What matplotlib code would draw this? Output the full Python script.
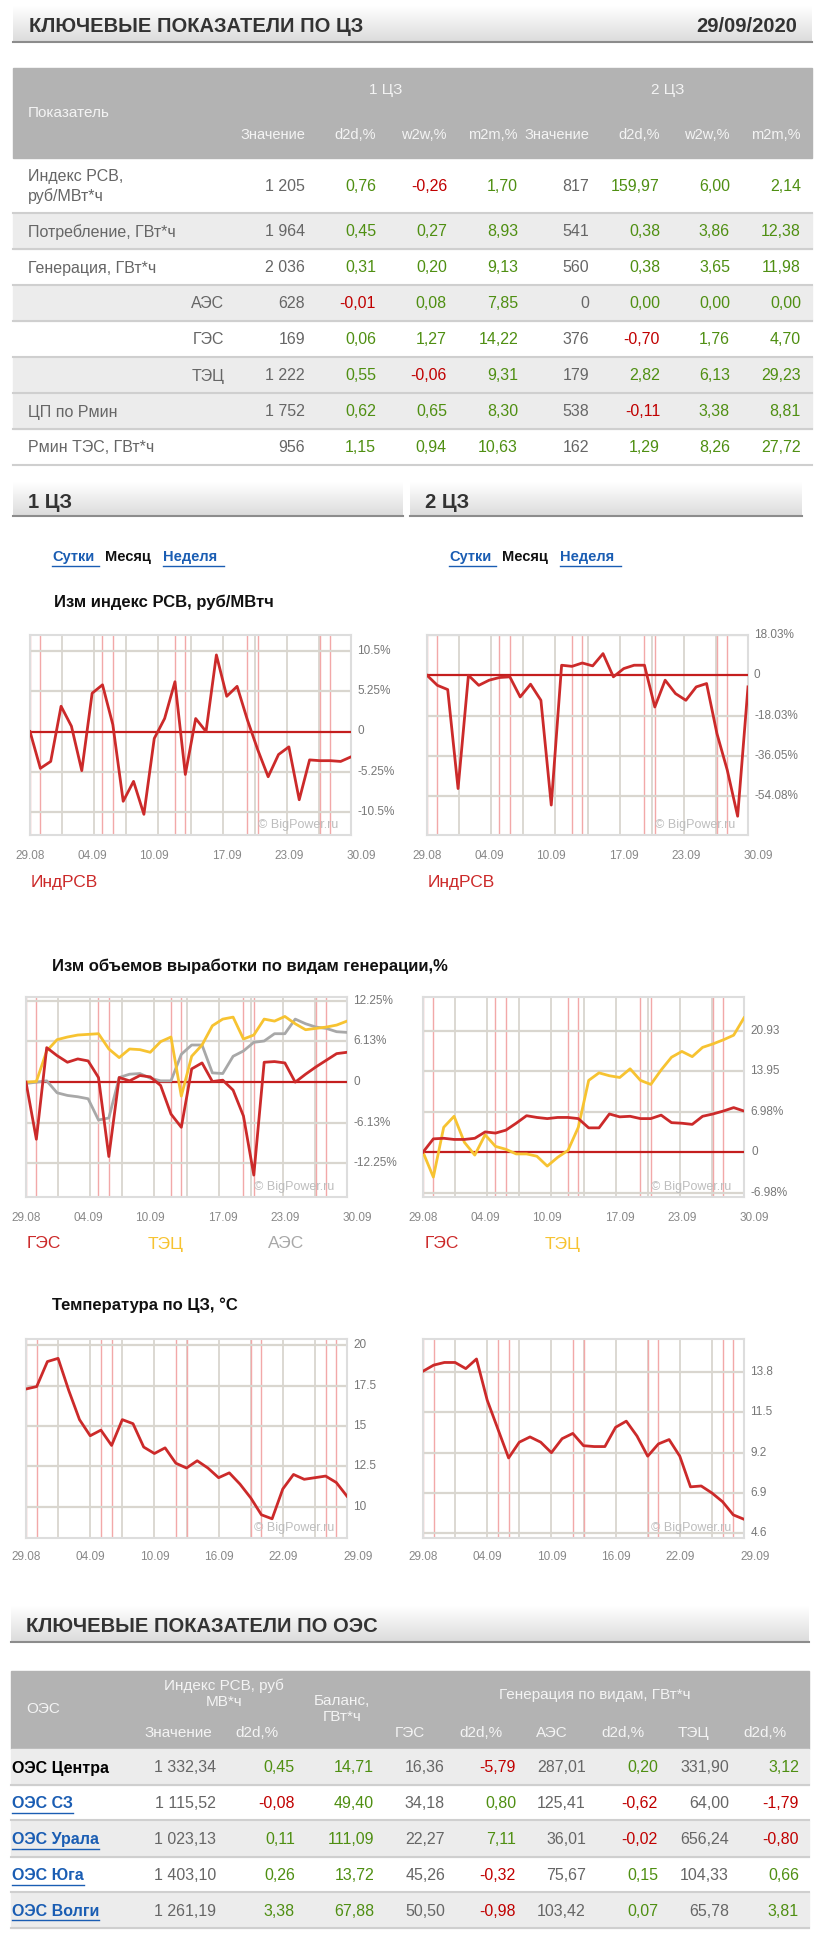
import numpy as np
import matplotlib
matplotlib.use("Agg")
import matplotlib.pyplot as plt
from matplotlib.patches import Rectangle

plt.rcParams['font.family'] = ['Liberation Sans', 'DejaVu Sans']

W, H = 816, 1941
GREEN = '#4f8f12'
RED_T = '#c00000'
GRAYT = '#666666'
LRED = '#cc2a2a'
YEL = '#f7c331'
AESG = '#a8a8a8'

# ---------------- data ----------------
date_str = "29/09/2020"
t1_rows = ["Индекс РСВ,\nруб/МВт*ч", "Потребление, ГВт*ч", "Генерация, ГВт*ч", "АЭС", "ГЭС", "ТЭЦ",
           "ЦП по Рмин", "Рмин ТЭС, ГВт*ч"]
t1_vals = [
    ["1 205", "0,76", "-0,26", "1,70", "817", "159,97", "6,00", "2,14"],
    ["1 964", "0,45", "0,27", "8,93", "541", "0,38", "3,86", "12,38"],
    ["2 036", "0,31", "0,20", "9,13", "560", "0,38", "3,65", "11,98"],
    ["628", "-0,01", "0,08", "7,85", "0", "0,00", "0,00", "0,00"],
    ["169", "0,06", "1,27", "14,22", "376", "-0,70", "1,76", "4,70"],
    ["1 222", "0,55", "-0,06", "9,31", "179", "2,82", "6,13", "29,23"],
    ["1 752", "0,62", "0,65", "8,30", "538", "-0,11", "3,38", "8,81"],
    ["956", "1,15", "0,94", "10,63", "162", "1,29", "8,26", "27,72"],
]
t1_sub = ["Значение", "d2d,%", "w2w,%", "m2m,%", "Значение", "d2d,%", "w2w,%", "m2m,%"]

rsv1 = [0, -4.8, -3.9, 3.3, 0.7, -5.1, 5.0, 6.1, 0.9, -9.1, -6.5, -10.8, -0.9, 1.7, 6.5, -5.6,
        1.7, 0, 10.0, 4.6, 5.9, 1.5, -2.4, -5.9, -3.0, -2.0, -8.9, -3.7, -3.8, -3.8, -3.9, -3.3]
rsv2 = [0, -4.5, -6.4, -50.7, 0, -4.5, -2.2, -1.0, -0.7, -9.7, -4.0, -11.2, -58.1, 4.5, 4.0, 5.5,
        4.2, 9.7, -0.7, 3.0, 4.5, 4.5, -14.2, -2.2, -8.2, -11.2, -5.2, -3.7, -26.1, -42.5, -63.1, -5.2]
ges1 = [0, -8.6, 5.2, 4.0, 3.0, 3.5, 3.2, 0.7, -11.2, 0.7, 0.2, 1.0, 0.8, -0.5, -4.8, -6.8,
        2.0, 2.9, 0.1, 0.3, -1.2, -5.1, -14.0, 3.0, 3.1, 2.9, 0, 1.2, 2.3, 3.3, 4.3, 4.5]
tec1 = [0, 0.1, 4.7, 6.4, 6.8, 7.1, 7.2, 7.3, 5.0, 3.7, 5.0, 4.9, 4.5, 6.1, 6.8, -2.1,
        3.9, 5.6, 8.5, 9.5, 9.8, 6.5, 7.1, 9.5, 9.2, 9.9, 8.8, 7.9, 8.1, 8.3, 8.6, 9.2]
aes1 = [-0.2, 0, 0.2, -1.6, -2.0, -2.2, -2.5, -5.7, -5.4, 0.7, 1.2, 1.3, 0.6, 0.2, 0.2, 4.2,
        5.6, 5.6, 1.4, 1.3, 3.9, 4.7, 6.0, 6.2, 7.3, 7.3, 9.5, 8.8, 8.3, 8.1, 7.6, 7.5]
ges2 = [0, 2.3, 2.4, 2.2, 2.2, 2.4, 3.5, 3.3, 3.8, 5.0, 6.3, 6.0, 5.8, 6.0, 6.0, 5.8,
        4.2, 4.2, 6.6, 6.1, 6.2, 5.8, 5.8, 6.4, 5.1, 5.0, 4.8, 6.2, 6.6, 7.1, 7.7, 7.1]
tec2 = [0, -4.3, 4.3, 6.2, 1.7, -0.5, 3.0, 1.0, 0.5, -0.3, -0.3, -0.7, -2.4, -0.9, 0.3, 4.3,
        12.4, 13.7, 13.2, 12.9, 14.4, 12.4, 11.7, 14.2, 16.4, 17.4, 16.5, 18.1, 18.7, 19.4, 20.2, 23.2]
temp1 = [17.3, 17.45, 19.0, 19.2, 17.2, 15.4, 14.4, 14.75, 13.8, 15.4, 15.15, 13.7, 13.3, 13.65,
         12.7, 12.4, 12.85, 12.4, 11.8, 12.1, 11.4, 10.55, 9.5, 9.25, 11.1, 12.0, 11.7, 11.8, 11.9, 11.5, 10.65]
temp2 = [13.85, 14.2, 14.35, 14.35, 14.0, 14.55, 12.2, 10.55, 8.9, 9.8, 10.1, 9.8, 9.2, 10.0,
         10.3, 9.6, 9.55, 9.55, 10.65, 11.0, 10.15, 9.0, 9.7, 9.95, 9.0, 7.25, 7.3, 6.9, 6.4, 5.65, 5.4]

xt_labels_a = ["29.08", "04.09", "10.09", "17.09", "23.09", "30.09"]
xt_labels_b = ["29.08", "04.09", "10.09", "16.09", "22.09", "29.09"]

t2_rows = ["ОЭС Центра", "ОЭС СЗ", "ОЭС Урала", "ОЭС Юга", "ОЭС Волги"]
t2_vals = [
    ["1 332,34", "0,45", "14,71", "16,36", "-5,79", "287,01", "0,20", "331,90", "3,12"],
    ["1 115,52", "-0,08", "49,40", "34,18", "0,80", "125,41", "-0,62", "64,00", "-1,79"],
    ["1 023,13", "0,11", "111,09", "22,27", "7,11", "36,01", "-0,02", "656,24", "-0,80"],
    ["1 403,10", "0,26", "13,72", "45,26", "-0,32", "75,67", "0,15", "104,33", "0,66"],
    ["1 261,19", "3,38", "67,88", "50,50", "-0,98", "103,42", "0,07", "65,78", "3,81"],
]

# ---------------- figure ----------------
fig = plt.figure(figsize=(W / 100, H / 100), dpi=100)
bg = fig.add_axes([0, 0, 1, 1])
bg.set_xlim(0, W)
bg.set_ylim(H, 0)
bg.axis('off')


def txt(x, y, s, size=11, color=GRAYT, ha='left', va='center', **kw):
    return bg.text(x, y, s, fontsize=size, color=color, ha=ha, va=va, **kw)


def gbar(x0, x1, y0, y1):
    grad = np.linspace(1.0, 0.86, 64).reshape(-1, 1)
    bg.imshow(np.dstack([grad, grad, grad]), extent=[x0, x1, y1, y0], aspect='auto', zorder=0)
    bg.plot([x0, x1], [y1, y1], color='#8c8c8c', lw=1.5, zorder=1)


def vcolor(s):
    return RED_T if s.startswith('-') else GREEN


# title bar 1
gbar(13, 812, 6, 42)
txt(29, 27, "КЛЮЧЕВЫЕ ПОКАЗАТЕЛИ ПО ЦЗ", 14.5, '#333333', weight='bold')
txt(797, 27, date_str, 14.5, '#333333', ha='right', weight='bold')

# table 1
bg.add_patch(Rectangle((13, 68), 799, 90, color='#b3b3b3', zorder=0))
hw = '#f4f4f4'
txt(28, 113, "Показатель", 11, hw)
txt(386, 90, "1 ЦЗ", 11, hw, ha='center')
txt(668, 90, "2 ЦЗ", 11, hw, ha='center')
col_r = [305, 376, 447, 518, 589, 660, 730, 801]
for cx, s in zip(col_r, t1_sub):
    txt(cx, 135, s, 10.5, hw, ha='right')
bounds = [158, 213, 249, 285, 321, 357, 393, 429, 465]
gray_rows = [1, 3, 5, 6]
for i, (name, vals) in enumerate(zip(t1_rows, t1_vals)):
    y0, y1 = bounds[i], bounds[i + 1]
    if i in gray_rows:
        bg.add_patch(Rectangle((13, y0), 799, y1 - y0, color='#ececec', zorder=0))
    bg.plot([13, 812], [y1, y1], color='#cfcfcf', lw=1.5, zorder=1)
    yc = (y0 + y1) / 2 + 1
    if name in ("АЭС", "ГЭС", "ТЭЦ"):
        txt(224, yc, name, 11.5, GRAYT, ha='right')
    else:
        txt(28, yc, name, 11.5, GRAYT, linespacing=1.3)
    for j, (cx, v) in enumerate(zip(col_r, vals)):
        c = GRAYT if j in (0, 4) else vcolor(v)
        txt(cx, yc, v, 11.5, c, ha='right')

# section bars
gbar(13, 403, 482, 516)
gbar(410, 802, 482, 516)
txt(28, 502, "1 ЦЗ", 14.5, '#333333', weight='bold')
txt(425, 502, "2 ЦЗ", 14.5, '#333333', weight='bold')

LINK = '#1a5db3'
for x0 in (52, 449):
    txt(x0, 557, "Сутки", 10.5, LINK, weight='bold')
    txt(x0 + 53, 557, "Месяц", 10.5, '#111111', weight='bold')
    txt(x0 + 111, 557, "Неделя", 10.5, LINK, weight='bold')
    bg.plot([x0, x0 + 47], [566, 566], color=LINK, lw=1)
    bg.plot([x0 + 111, x0 + 172], [566, 566], color=LINK, lw=1)

txt(54, 602, "Изм индекс РСВ, руб/МВтч", 12, '#111111', weight='bold')
txt(52, 966, "Изм объемов выработки по видам генерации,%", 12, '#111111', weight='bold')
txt(52, 1305, "Температура по ЦЗ, °С", 12, '#111111', weight='bold')

weekend_idx = [0, 1, 7, 8, 14, 15, 21, 22, 28, 29]


def chart(px, py, pw, ph, series, ylim, yticks, ylabels, xt_pos, xt_labels, n, zero=True,
          xlab_y=None, legend=None, leg_y=None):
    ax = fig.add_axes([px / W, 1 - (py + ph) / H, pw / W, ph / H])
    ax.set_xlim(0, n - 1)
    ax.set_ylim(*ylim)
    for sp in ax.spines.values():
        sp.set_color('#dddddd')
        sp.set_linewidth(1.5)
    ax.set_xticks([])
    ax.set_yticks([])
    for g in np.linspace(0, n - 1, 11)[1:-1]:
        ax.axvline(g, color='#d9d6cf', lw=1.3, zorder=1)
    for wk in weekend_idx:
        if wk < n:
            ax.axvline(wk, color='#f2a8a8', lw=1.0, zorder=1)
    for yt in yticks:
        ax.axhline(yt, color='#d9d6cf', lw=1.6, zorder=1)
    for yt, lab in zip(yticks, ylabels):
        ax.text(1.02, (yt - ylim[0]) / (ylim[1] - ylim[0]), lab, transform=ax.transAxes,
                fontsize=8.5, color='#777777', ha='left', va='center', clip_on=False)
    if zero:
        ax.axhline(0, color='#c41e1e', lw=1.6, zorder=3)
    for vals, col in series:
        ax.plot(range(len(vals)), vals, color=col, lw=2, zorder=4, solid_joinstyle='round')
    ax.text(0.96, 0.05, "© BigPower.ru", transform=ax.transAxes, fontsize=9, color='#bdbdbd',
            ha='right', va='center', zorder=5)
    for p, lab in zip(xt_pos, xt_labels):
        xx = px + p / (n - 1) * pw
        txt(xx, xlab_y, lab, 8.5, '#888888', ha='center')
    if legend:
        for lx, lab, col in legend:
            txt(lx, leg_y, lab, 12.5, col)
    return ax


pos_a = [0, 6, 12, 19, 25, 32]
pos_b = [0, 6, 12, 18, 24, 31]

chart(30, 635, 321, 200, [(rsv1, LRED)], (-13.5, 12.6), [10.5, 5.25, -5.25, -10.5],
      ["10.5%", "5.25%", "-5.25%", "-10.5%"], pos_a, xt_labels_a, 32, xlab_y=856,
      legend=[(31, "ИндРСВ", LRED)], leg_y=882)
chart(427, 635, 321, 200, [(rsv2, LRED)], (-71.5, 18.03), [18.03, -18.03, -36.05, -54.08],
      ["18.03%", "-18.03%", "-36.05%", "-54.08%"], pos_a, xt_labels_a, 32, xlab_y=856,
      legend=[(428, "ИндРСВ", LRED)], leg_y=882)
txt(357, 731, "0", 8.5, '#777777')
txt(754, 675, "0", 8.5, '#777777')

chart(26, 997, 321, 200, [(aes1, AESG), (tec1, YEL), (ges1, LRED)], (-17.3, 12.83),
      [12.25, 6.13, -6.13, -12.25], ["12.25%", "6.13%", "-6.13%", "-12.25%"], pos_a, xt_labels_a, 32,
      xlab_y=1218, legend=[(27, "ГЭС", LRED), (148, "ТЭЦ", YEL), (268, "АЭС", AESG)], leg_y=1244)
chart(423, 997, 321, 200, [(tec2, YEL), (ges2, LRED)], (-7.74, 26.8),
      [20.93, 13.95, 6.98, -6.98], ["20.93", "13.95", "6.98%", "-6.98%"], pos_a, xt_labels_a, 32,
      xlab_y=1218, legend=[(425, "ГЭС", LRED), (545, "ТЭЦ", YEL)], leg_y=1244)
txt(353, 1082, "0", 8.5, '#777777')
txt(751, 1152, "0", 8.5, '#777777')

chart(26, 1339, 321, 199, [(temp1, LRED)], (8.06, 20.4), [20, 17.5, 15, 12.5, 10],
      ["20", "17.5", "15", "12.5", "10"], pos_b, xt_labels_b, 31, zero=False, xlab_y=1557)
chart(423, 1339, 321, 199, [(temp2, LRED)], (4.33, 15.69), [13.8, 11.5, 9.2, 6.9, 4.6],
      ["13.8", "11.5", "9.2", "6.9", "4.6"], pos_b, xt_labels_b, 31, zero=False, xlab_y=1557)

# title bar 2
gbar(11, 809, 1606, 1642)
txt(26, 1626, "КЛЮЧЕВЫЕ ПОКАЗАТЕЛИ ПО ОЭС", 14.5, '#333333', weight='bold')

bg.add_patch(Rectangle((11, 1671), 798, 78, color='#b3b3b3', zorder=0))
txt(26, 1709, "ОЭС", 11, hw)
txt(224, 1694, "Индекс РСВ, руб\nМВ*ч", 11, hw, ha='center', linespacing=1.2)
txt(342, 1709, "Баланс,\nГВт*ч", 11, hw, ha='center', linespacing=1.2)
txt(595, 1695, "Генерация по видам, ГВт*ч", 11, hw, ha='center')
sub2 = [(212, "Значение"), (278, "d2d,%"), (425, "ГЭС"), (503, "d2d,%"), (568, "АЭС"),
        (644, "d2d,%"), (709, "ТЭЦ"), (786, "d2d,%")]
for cx, s in sub2:
    txt(cx, 1733, s, 11, hw, ha='right')
col2 = [216, 295, 374, 445, 516, 586, 658, 729, 799]
b2 = [1749, 1785, 1820, 1857, 1892, 1928]
fig.canvas.draw()
for i, (name, vals) in enumerate(zip(t2_rows, t2_vals)):
    y0, y1 = b2[i], b2[i + 1]
    if i % 2 == 0:
        bg.add_patch(Rectangle((11, y0), 798, y1 - y0, color='#ececec', zorder=0))
    bg.plot([11, 809], [y1, y1], color='#cfcfcf', lw=1.5, zorder=1)
    yc = (y0 + y1) / 2 + 1
    if i == 0:
        txt(12, yc, name, 11.5, '#000000', weight='bold')
    else:
        t = txt(12, yc, name, 11.5, LINK, weight='bold')
        bb = t.get_window_extent(renderer=fig.canvas.get_renderer())
        bg.plot([12, 12 + (bb.x1 - bb.x0)], [yc + 9, yc + 9], color=LINK, lw=1)
    for j, (cx, v) in enumerate(zip(col2, vals)):
        c = GRAYT if j in (0, 3, 5, 7) else vcolor(v)
        txt(cx, yc, v, 11.5, c, ha='right')

fig.savefig("out.png", dpi=100)
